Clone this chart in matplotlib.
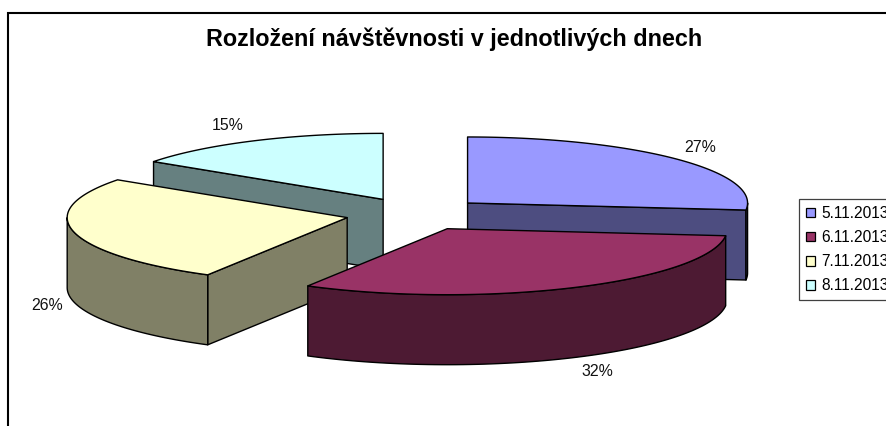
import numpy as np
import matplotlib
matplotlib.use('Agg')
import matplotlib.pyplot as plt
from matplotlib.patches import Polygon, Patch

plt.rcParams['font.family'] = ['Liberation Sans', 'DejaVu Sans']

days = ["5.11.2013", "6.11.2013", "7.11.2013", "8.11.2013"]
shares = [26.7, 31.6, 26.4, 15.3]
top_colors = ["#9999FF", "#993366", "#FFFFCC", "#CCFFFF"]
side_colors = ["#4D4D80", "#4D1A33", "#808066", "#668080"]
title = "Rozložení návštěvnosti v jednotlivých dnech"
label_pos = [(700, 147), (597, 371), (47, 305), (228, 126)]

# pie layout in pixels
cx, cy = 415.5, 214
rx, ry = 280, 66
depth = 70
explode = 0.25
draw_order = [3, 0, 2, 1]


def point(ox, oy, angle):
    return ox + rx * np.sin(angle), oy - ry * np.cos(angle)


def arc(ox, oy, a0, a1):
    t = np.linspace(a0, a1, 80)
    return np.column_stack(point(ox, oy, t))


fig = plt.figure(figsize=(8.87, 4.26), dpi=100)
ax = fig.add_axes([0, 0, 1, 1])
ax.set_xlim(0, 887)
ax.set_ylim(426, 0)
ax.axis("off")

edges = np.concatenate([[0], np.cumsum(shares)]) / sum(shares) * 2 * np.pi

for i in draw_order:
    a0, a1 = edges[i], edges[i + 1]
    mid = (a0 + a1) / 2
    ox = cx + explode * rx * np.sin(mid)
    oy = cy - explode * ry * np.cos(mid)

    # only the cut faces turned towards the viewer
    visible = []
    if a0 >= np.pi:
        visible.append(a0)
    if a1 <= np.pi:
        visible.append(a1)
    for a in visible:
        x, y = point(ox, oy, a)
        face = [(ox, oy), (x, y), (x, y + depth), (ox, oy + depth)]
        ax.add_patch(Polygon(face, fc=side_colors[i], ec="black", lw=1, joinstyle="round"))

    w0, w1 = max(a0, np.pi / 2), min(a1, 3 * np.pi / 2)
    if w1 > w0:
        upper = arc(ox, oy, w0, w1)
        lower = upper[::-1] + [0, depth]
        ax.add_patch(Polygon(np.vstack([upper, lower]), fc=side_colors[i], ec="black", lw=1,
                             joinstyle="round"))

    top = np.vstack([[(ox, oy)], arc(ox, oy, a0, a1)])
    ax.add_patch(Polygon(top, fc=top_colors[i], ec="black", lw=1, joinstyle="round"))

for share, (x, y) in zip(shares, label_pos):
    ax.text(x, y, f"{round(share)}%", fontsize=11.4, color="#111111", ha="center", va="center")

ax.text(454, 39, title, fontsize=16.8, fontweight="bold", ha="center", va="center")

# chart frame, bottom and right run off the picture
ax.plot([8, 8, 887], [426, 12.5, 12.5], color="black", lw=1.5, solid_joinstyle="miter")

handles = [Patch(fc=c, ec="black", lw=0.9) for c in top_colors]
leg = ax.legend(handles, days, loc="upper left", bbox_to_anchor=(799, 199),
                bbox_transform=ax.transData, fontsize=11.2, fancybox=False,
                framealpha=1, edgecolor="#404040", borderaxespad=0, borderpad=0.45,
                handlelength=0.6, handleheight=0.6, handletextpad=0.4, labelspacing=0.58)
leg.get_frame().set_linewidth(0.9)

fig.savefig("out.png", dpi=100)
